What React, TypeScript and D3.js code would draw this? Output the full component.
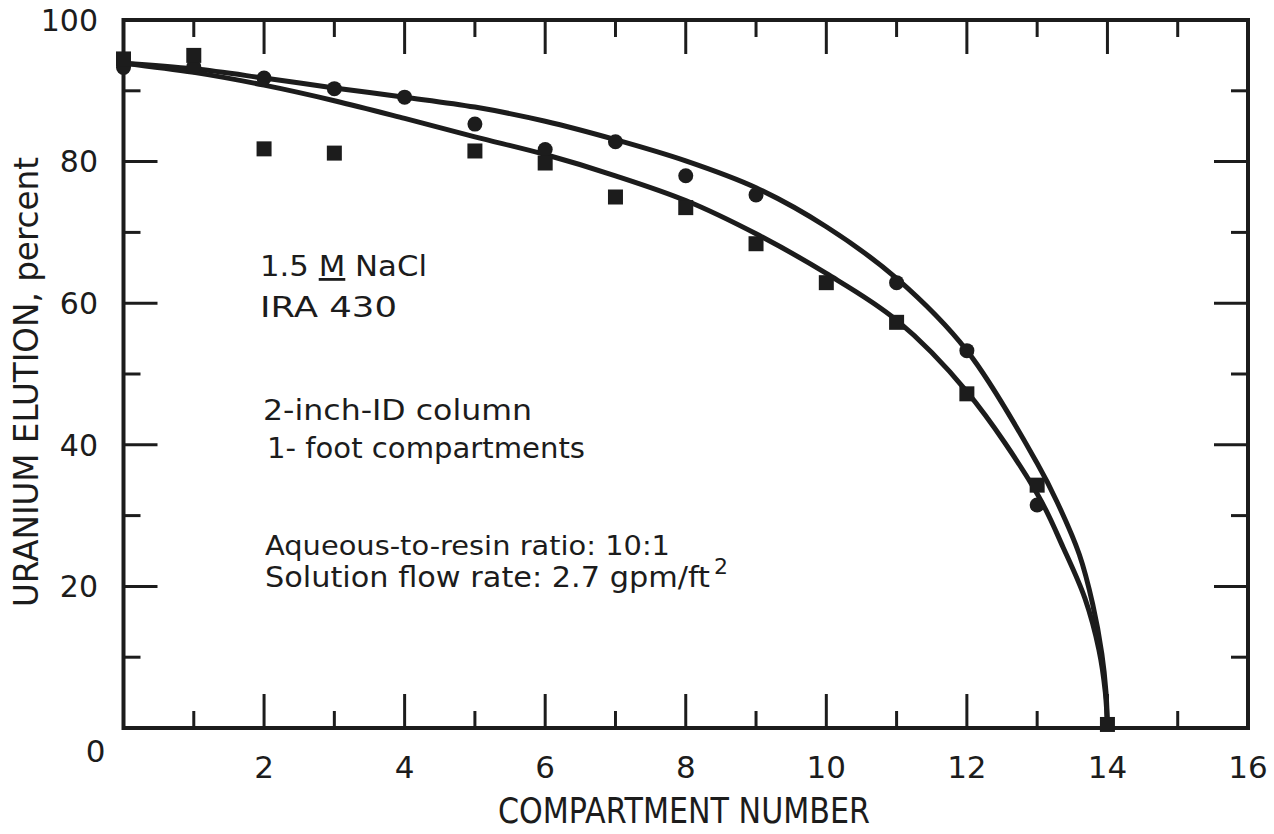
import React from "react";
import * as d3 from "d3";

// ---- Data ----
const xTickValues = [0, 2, 4, 6, 8, 10, 12, 14, 16];
const xMinorTicks = [1, 3, 5, 7, 9, 11, 13, 15];
const yTickValues = [0, 20, 40, 60, 80, 100];
const yMinorTicks = [10, 30, 50, 70, 90];

// Circles (one run)
const circleX = [0, 1, 2, 3, 4, 5, 6, 7, 8, 9, 11, 12, 13];
const circleY = [93.3, 93.4, 91.8, 90.3, 89.1, 85.3, 81.7, 82.8, 78.0, 75.3, 62.9, 53.3, 31.5];

// Squares (other run)
const squareX = [0, 1, 2, 3, 5, 6, 7, 8, 9, 10, 11, 12, 13, 14];
const squareY = [94.5, 95.0, 81.8, 81.2, 81.5, 79.8, 75.0, 73.5, 68.4, 62.9, 57.3, 47.2, 34.3, 0.5];

// Fitted curves
const upperCurveX = [0, 1, 2, 3, 4, 5, 6, 7, 8, 9, 10, 11, 12, 13, 13.28, 13.6, 13.79, 13.92, 13.98, 14.0];
const upperCurveY = [93.9, 93.1, 91.8, 90.4, 89.1, 87.7, 85.7, 83.1, 80.1, 76.3, 70.8, 63.5, 53.3, 37.4, 32.0, 24.5, 17.5, 10.5, 5.0, 0];
const lowerCurveX = [0, 1, 2, 3, 4, 5, 6, 7, 8, 9, 10, 11, 12, 13, 13.37, 13.68, 13.88, 13.97, 14.0];
const lowerCurveY = [93.9, 92.6, 90.8, 88.6, 86.1, 83.5, 81.0, 78.0, 74.5, 69.8, 64.2, 57.6, 47.5, 33.1, 25.5, 18.3, 11.0, 5.0, 0];

const annotations = [
  { text: "IRA 430", x: 260, y: 317, len: 137, size: 28 },
  { text: "2-inch-ID column", x: 263, y: 420, len: 269, size: 28 },
  { text: "1- foot compartments", x: 267, y: 458, len: 318, size: 28 },
  { text: "Aqueous-to-resin ratio: 10:1", x: 265, y: 555, len: 405, size: 27 },
];

const INK = "#1c1c1c";
const FONT = "'DejaVu Sans', sans-serif";

export default function App() {
  const W = 1274;
  const H = 834;
  const x = d3.scaleLinear().domain([0, 16]).range([123.5, 1248]);
  const y = d3.scaleLinear().domain([0, 100]).range([728, 20]);

  const line = d3
    .line<[number, number]>()
    .x((d) => x(d[0]))
    .y((d) => y(d[1]))
    .curve(d3.curveCatmullRom.alpha(0.5));

  const upper: [number, number][] = upperCurveX.map((v, i) => [v, upperCurveY[i]]);
  const lower: [number, number][] = lowerCurveX.map((v, i) => [v, lowerCurveY[i]]);

  const [x0, x1] = x.range();
  const [y0, y1] = y.range();

  const majorLen = 34;
  const minorLen = 17;

  return (
    <svg
      width={W}
      height={H}
      style={{ position: "absolute", left: 0, top: 0, background: "#fff" }}
      fontFamily={FONT}
    >
      {/* frame */}
      <rect x={x0} y={y1} width={x1 - x0} height={y0 - y1} fill="none" stroke={INK} strokeWidth={4} />

      {/* x ticks bottom & top */}
      {xTickValues.filter((v) => v > 0 && v < 16).map((v) => (
        <g key={"xm" + v}>
          <line x1={x(v)} x2={x(v)} y1={y0} y2={y0 - majorLen} stroke={INK} strokeWidth={3} />
          <line x1={x(v)} x2={x(v)} y1={y1} y2={y1 + majorLen} stroke={INK} strokeWidth={3} />
        </g>
      ))}
      {xMinorTicks.map((v) => (
        <g key={"xn" + v}>
          <line x1={x(v)} x2={x(v)} y1={y0} y2={y0 - minorLen} stroke={INK} strokeWidth={3} />
          <line x1={x(v)} x2={x(v)} y1={y1} y2={y1 + minorLen} stroke={INK} strokeWidth={3} />
        </g>
      ))}
      {/* y ticks left & right */}
      {yTickValues.filter((v) => v > 0 && v < 100).map((v) => (
        <g key={"ym" + v}>
          <line x1={x0} x2={x0 + majorLen} y1={y(v)} y2={y(v)} stroke={INK} strokeWidth={3} />
          <line x1={x1} x2={x1 - majorLen} y1={y(v)} y2={y(v)} stroke={INK} strokeWidth={3} />
        </g>
      ))}
      {yMinorTicks.map((v) => (
        <g key={"yn" + v}>
          <line x1={x0} x2={x0 + minorLen} y1={y(v)} y2={y(v)} stroke={INK} strokeWidth={3} />
          <line x1={x1} x2={x1 - minorLen} y1={y(v)} y2={y(v)} stroke={INK} strokeWidth={3} />
        </g>
      ))}

      {/* x tick labels */}
      {xTickValues.filter((v) => v > 0).map((v) => (
        <text key={"xl" + v} x={x(v)} y={778} textAnchor="middle" fontSize={31} fill={INK}>
          {v}
        </text>
      ))}
      <text x={x(0) - 28} y={762} textAnchor="middle" fontSize={31} fill={INK}>
        0
      </text>
      {/* y tick labels */}
      {yTickValues.filter((v) => v > 0).map((v) => (
        <text key={"yl" + v} x={98} y={y(v)} dy="0.36em" textAnchor="end" fontSize={30} fill={INK}>
          {v}
        </text>
      ))}

      {/* axis titles */}
      <text x={498} y={823} fontSize={36} textLength={372} lengthAdjust="spacingAndGlyphs" fill={INK}>
        COMPARTMENT NUMBER
      </text>
      <text
        transform={`translate(38, ${(157 + 607) / 2}) rotate(-90)`}
        textAnchor="middle"
        fontSize={34}
        textLength={450}
        lengthAdjust="spacingAndGlyphs"
        fill={INK}
      >
        URANIUM ELUTION, percent
      </text>

      {/* annotations */}
      <text x={260} y={276} fontSize={28} textLength={167} lengthAdjust="spacingAndGlyphs" fill={INK}>
        1.5{" "}
        <tspan style={{ textDecoration: "underline" }}>M</tspan> NaCl
      </text>
      {annotations.map((a) => (
        <text
          key={a.text}
          x={a.x}
          y={a.y}
          fontSize={a.size}
          textLength={a.len}
          lengthAdjust="spacingAndGlyphs"
          fill={INK}
        >
          {a.text}
        </text>
      ))}
      <text x={265} y={587} fontSize={29} textLength={445} lengthAdjust="spacingAndGlyphs" fill={INK}>
        Solution flow rate: 2.7 gpm/ft
      </text>
      <text x={714} y={574} fontSize={22} fill={INK}>
        2
      </text>

      {/* curves */}
      <path d={line(upper) || ""} fill="none" stroke={INK} strokeWidth={5} strokeLinejoin="round" />
      <path d={line(lower) || ""} fill="none" stroke={INK} strokeWidth={5} strokeLinejoin="round" />

      {/* markers */}
      {circleX.map((v, i) => (
        <circle key={"c" + i} cx={x(v)} cy={y(circleY[i])} r={7.5} fill={INK} />
      ))}
      {squareX.map((v, i) => (
        <rect key={"s" + i} x={x(v) - 7.5} y={y(squareY[i]) - 7.5} width={15} height={15} fill={INK} />
      ))}
    </svg>
  );
}
